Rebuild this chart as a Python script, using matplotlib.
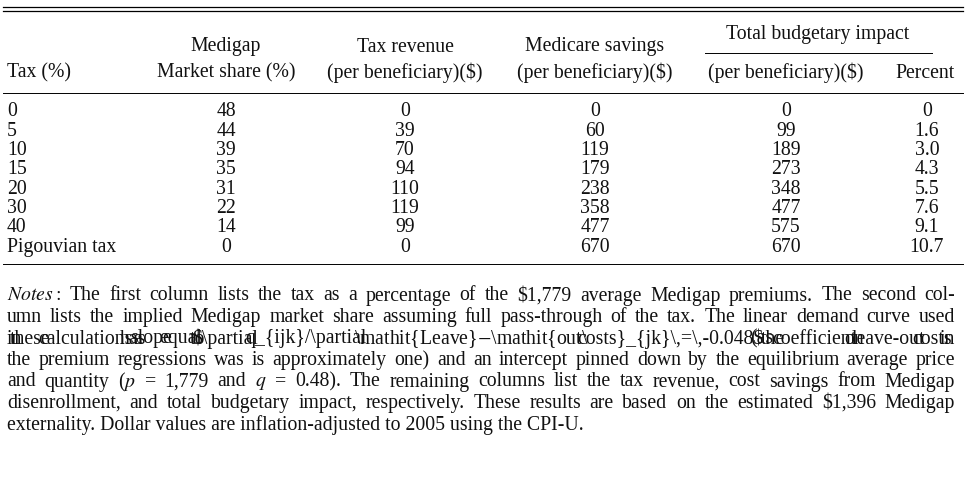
import matplotlib
matplotlib.use("Agg")
import matplotlib.pyplot as plt

plt.rcParams['font.family'] = 'Liberation Serif'
plt.rcParams['mathtext.fontset'] = 'stix'

tax_labels = ["0", "5", "10", "15", "20", "30", "40", "Pigouvian tax"]
market_share = ["48", "44", "39", "35", "31", "22", "14", "0"]
tax_revenue = ["0", "39", "70", "94", "110", "119", "99", "0"]
medicare_savings = ["0", "60", "119", "179", "238", "358", "477", "670"]
total_impact = ["0", "99", "189", "273", "348", "477", "575", "670"]
percent = ["0", "1.6", "3.0", "4.3", "5.5", "7.6", "9.1", "10.7"]

notes = [
    r"$\mathit{Notes:}$ The first column lists the tax as a percentage of the \$1,779 average Medigap premiums. The second col-",
    "umn lists the implied Medigap market share assuming full pass-through of the tax. The linear demand curve used",
    r"in these calculations has a slope equal to $\partial q_{ijk}/\partial \mathit{Leave}$-$\mathit{out\ costs}_{jk}\,=\,-0.048$ (as the coefficient on leave-out costs in",
    "the premium regressions was is approximately one) and an intercept pinned down by the equilibrium average price",
    r"and quantity ($p$ = 1,779 and $q$ = 0.48). The remaining columns list the tax revenue, cost savings from Medigap",
    "disenrollment, and total budgetary impact, respectively. These results are based on the estimated \\$1,396 Medigap",
    "externality. Dollar values are inflation-adjusted to 2005 using the CPI-U.",
]

W, H = 968, 480
fig = plt.figure(figsize=(W / 100, H / 100), dpi=100)
ax = fig.add_axes([0, 0, 1, 1])
ax.set_xlim(0, W)
ax.set_ylim(H, 0)
ax.axis("off")

fs = 14.2
def t(x, y, s, ha="center"):
    return ax.text(x, y, s, ha=ha, va="center", fontsize=fs, color="#111")

# rules
ax.plot([3, 963], [7, 7], color="k", lw=0.9)
ax.plot([3, 963], [11, 11], color="k", lw=0.9)
ax.plot([705, 932], [53, 53], color="k", lw=0.7)
ax.plot([3, 963], [93, 93], color="k", lw=0.7)
ax.plot([3, 963], [264, 264], color="k", lw=0.7)

# header
t(7, 73, "Tax (%)", ha="left")
t(226, 47, "Medigap")
t(226, 73, "Market share (%)")
t(405, 47, "Tax revenue")
t(405, 73, "(per beneficiary)($)")
t(595, 47, "Medicare savings")
t(595, 73, "(per beneficiary)($)")
t(818, 35, "Total budgetary impact")
t(786, 73, "(per beneficiary)($)")
t(925, 73, "Percent")

cols = [(226, market_share), (405, tax_revenue), (595, medicare_savings),
        (786, total_impact), (927, percent)]
for i, lab in enumerate(tax_labels):
    y = 112 + i * 19.3
    t(7, y, lab, ha="left")
    for x, vals in cols:
        t(x, y, vals[i])

# notes, justified between x0 and x1
fig.canvas.draw()
r = fig.canvas.get_renderer()
x0, x1 = 7, 955
for i, line in enumerate(notes):
    y = 296 + i * 21.5
    if i == len(notes) - 1:
        t(x0, y, line, ha="left")
        continue
    words = line.split(" ")
    arts = [t(0, y, w, ha="left") for w in words]
    widths = [a.get_window_extent(r).width for a in arts]
    gap = (x1 - x0 - sum(widths)) / (len(words) - 1)
    x = x0
    for a, w in zip(arts, widths):
        a.set_x(x)
        x += w + gap

fig.savefig("out.png", dpi=100)
